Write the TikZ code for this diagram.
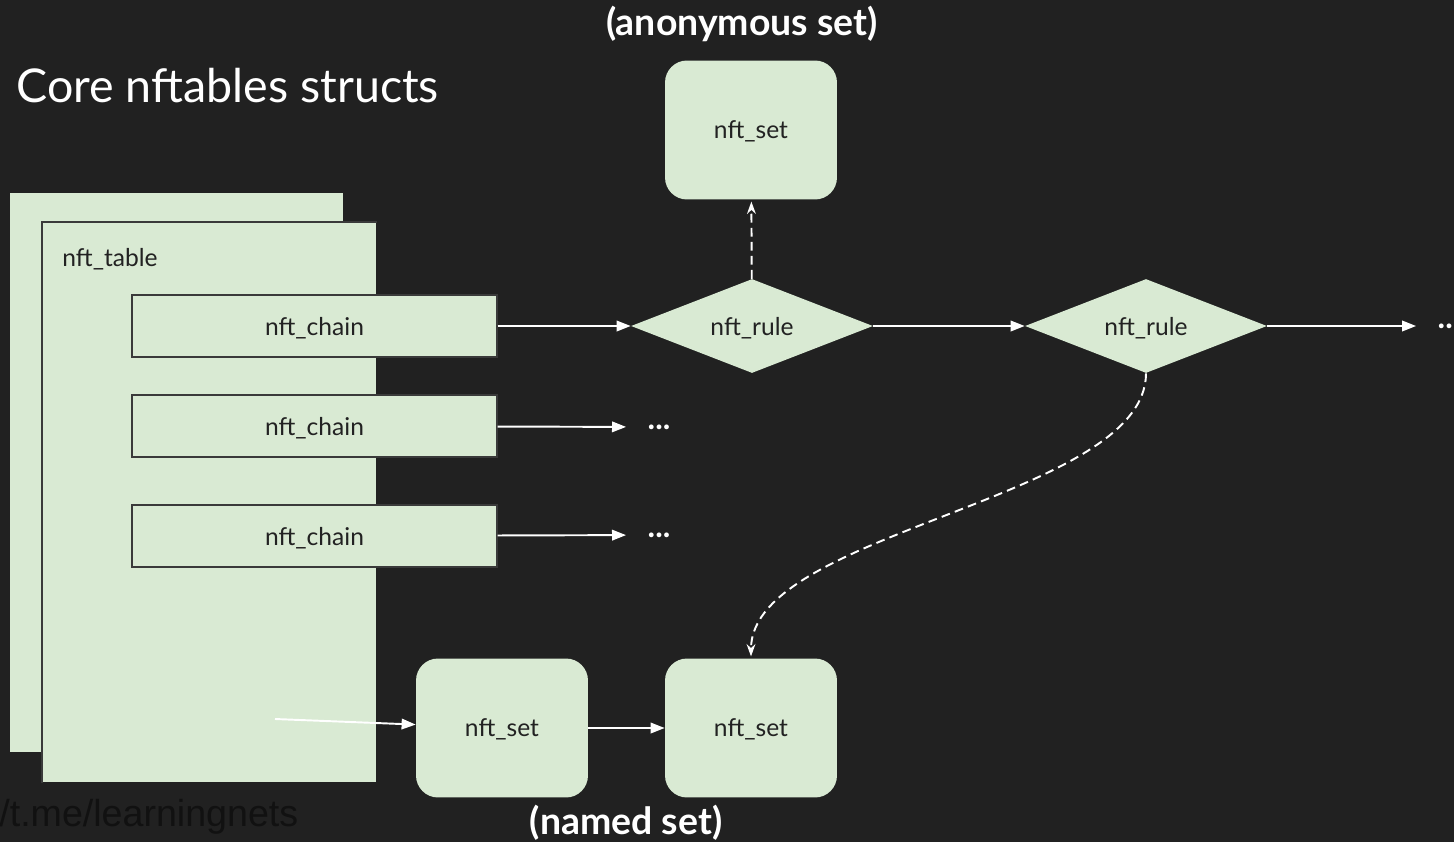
\documentclass[tikz,border=0pt]{standalone}
\usepackage{fontspec}
\setmainfont{Lato}
\newfontfamily\wmfont{Liberation Sans}
\usetikzlibrary{calc,positioning,shapes.geometric,arrows.meta}

\definecolor{bg}{HTML}{212121}
\definecolor{boxgreen}{HTML}{D9EAD3}
\definecolor{edge}{HTML}{3A3A3A}
\definecolor{ink}{HTML}{222222}
\definecolor{wm}{HTML}{111111}

\begin{document}
\begin{tikzpicture}[x=0.02cm,y=-0.02cm,inner sep=0.4mm,
	boxtext/.style={text=ink,text depth=0pt,font=\fontsize{14}{16}\selectfont},
	tablepage/.style={fill=boxgreen,anchor=north west},
	chainbox/.style={boxtext,draw=edge,fill=boxgreen,line width=0.8pt,minimum width=7.3cm,minimum height=1.24cm},
	rulebox/.style={boxtext,diamond,aspect=2.57,fill=boxgreen,inner sep=0pt,minimum width=4.84cm,minimum height=1.88cm},
	setbox/.style={boxtext,fill=boxgreen,rounded corners=0.44cm,minimum width=3.44cm,minimum height=2.78cm},
	link/.style={draw=white,line width=1.1pt,-{Triangle[length=8pt,width=6pt]}},
	ref/.style={draw=white,line width=1.1pt,dash pattern=on 5pt off 3pt,-{Stealth[length=7pt,width=5pt]}},
	more/.style={text=white,font=\bfseries\fontsize{18}{20}\selectfont},
	caption/.style={text=white,font=\bfseries\fontsize{21.3}{25}\selectfont}]

\fill[bg] (0,0) rectangle (1454,842);
\useasboundingbox (0,0) rectangle (1454,842);

% table pages
\node (tblback) [tablepage,minimum width=6.66cm,minimum height=11.18cm] at (10,193) {};
\node (tbl) [tablepage,minimum width=6.68cm,minimum height=11.2cm] at (42,222) {};
\draw [edge,line width=0.8pt] (tbl.south west) |- (tbl.north east);
\node (tbllbl) at (60,257) [anchor=west,boxtext] {nft\_table};
\coordinate (tblin) at (275,719);

\node (chain1) [chainbox] at (314.5,326) {nft\_chain};
\node (chain2) [chainbox] at (314.5,426) {nft\_chain};
\node (chain3) [chainbox] at (314.5,536) {nft\_chain};

\node (rule1) [rulebox] at (752,326) {nft\_rule};
\node (rule2) [rulebox] at (1146,326) {nft\_rule};

\node (anonset) [setbox] at (751,130) {nft\_set};
\node (namedset1) [setbox] at (502,728) {nft\_set};
\node (namedset2) [setbox] at (751,728) {nft\_set};

\node (more1) [more] at (1449,326) {...};
\node (more2) [more] at (659,427) {...};
\node (more3) [more] at (659,535) {...};

\draw [link] (chain1) -- (rule1);
\draw [link] (rule1) -- (rule2);
\draw [link,shorten >=11pt] (rule2) -- (more1);
\draw [link,shorten >=11pt] (chain2) -- (more2);
\draw [link,shorten >=11pt] (chain3) -- (more3);
\draw [link] (tblin) -- (namedset1);
\draw [link] (namedset1) -- (namedset2);

\draw [ref,shorten >=1pt] (rule1) -- (anonset);
\draw [ref,shorten >=1pt] (rule2.south) .. controls +(0,126) and +(0,-127) .. (namedset2.north);

\node (title) at (14,86) [anchor=west,text=white,font=\fontsize{26.5}{30}\selectfont] {Core nftables structs};
\node (anonlbl) at (742,24) [caption] {(anonymous set)};
\node (namedlbl) at (626,823) [caption] {(named set)};
\node (wmark) at (-3,817) [anchor=west,text=wm,font=\wmfont\fontsize{21.4}{25}\selectfont] {/t.me/learningnets};

\end{tikzpicture}
\end{document}
